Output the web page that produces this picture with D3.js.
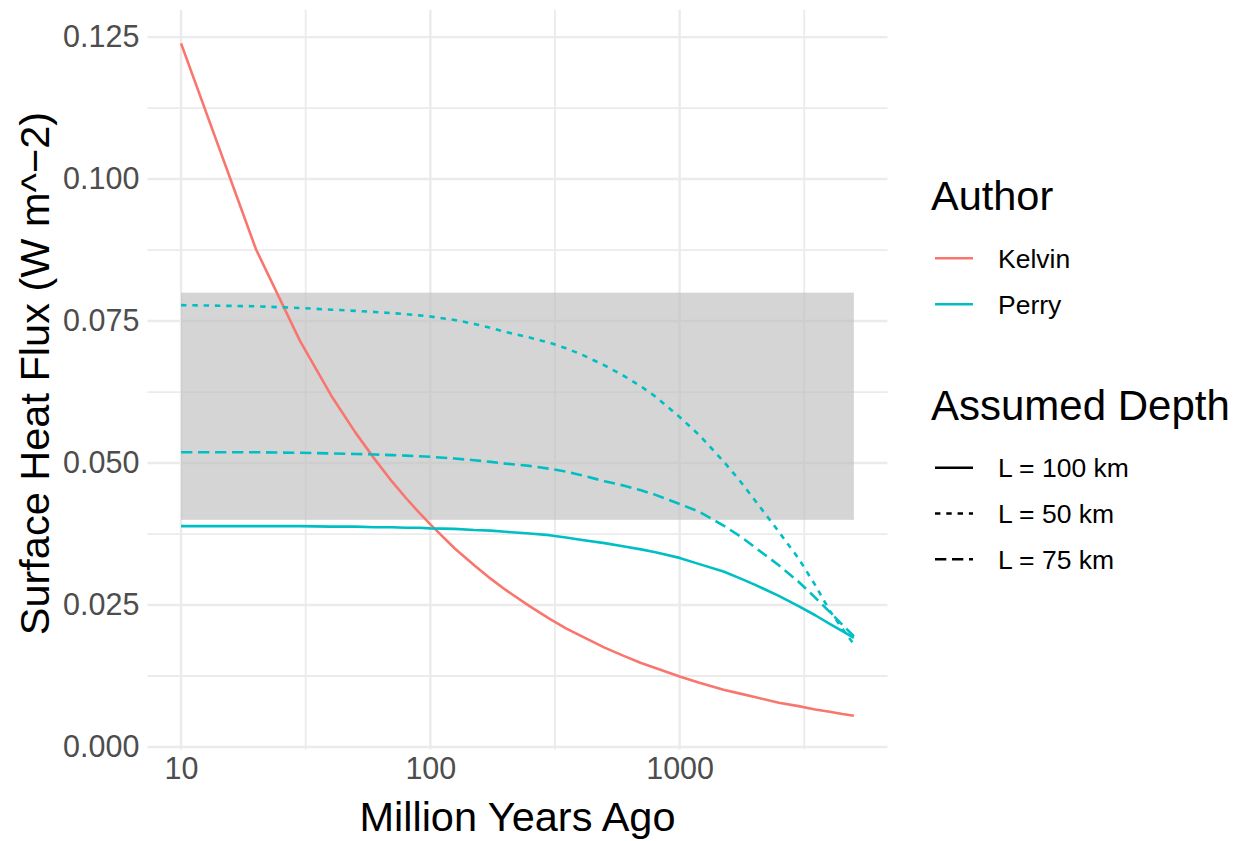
<!DOCTYPE html>
<html>
<head>
<meta charset="utf-8">
<script src="https://cdn.jsdelivr.net/npm/d3@7"></script>
<style>
  html, body { margin: 0; padding: 0; background: #fff; }
  svg text { font-family: "Liberation Sans", Arial, Helvetica, sans-serif; }
</style>
</head>
<body>
<svg id="chart" width="1243" height="841"></svg>
<script>
// values
const years = [10, 20, 30, 40, 50, 60, 70, 80, 90, 100, 125, 150, 175, 200, 250, 300, 350, 400, 500, 600, 700, 800,
               1000, 1200, 1500, 1750, 2000, 2500, 3000, 3500, 4000, 4500, 5000];
const kelvin = [0.1239, 0.0876, 0.0715, 0.0619, 0.0554, 0.0506, 0.0468, 0.0438, 0.0413, 0.0392, 0.0350, 0.0320, 0.0296, 0.0277, 0.0248, 0.0226, 0.0209, 0.0196, 0.0175, 0.0160, 0.0148, 0.0139,
                0.0124, 0.0113, 0.0101, 0.0094, 0.0088, 0.0078, 0.0072, 0.0066, 0.0062, 0.0058, 0.0055];
const perry100 = [0.0389, 0.0389, 0.0389, 0.0388, 0.0388, 0.0387, 0.0387, 0.0386, 0.0386, 0.0385, 0.0384, 0.0382, 0.0381, 0.0379, 0.0376, 0.0373, 0.0369, 0.0365, 0.0359, 0.0353, 0.0348, 0.0343,
                  0.0333, 0.0322, 0.0309, 0.0297, 0.0286, 0.0266, 0.0248, 0.0232, 0.0217, 0.0204, 0.0192];
const perry50 = [0.0778, 0.0776, 0.0773, 0.0770, 0.0768, 0.0766, 0.0764, 0.0762, 0.0760, 0.0758, 0.0752, 0.0745, 0.0738, 0.0731, 0.0721, 0.0712, 0.0702, 0.0692, 0.0672, 0.0653, 0.0635, 0.0617,
                 0.0581, 0.0549, 0.0503, 0.0468, 0.0435, 0.0379, 0.0332, 0.0285, 0.0240, 0.0208, 0.0181];
const perry75 = [0.0519, 0.0519, 0.0518, 0.0517, 0.0516, 0.0515, 0.0514, 0.0513, 0.0512, 0.0511, 0.0508, 0.0505, 0.0502, 0.0499, 0.0495, 0.0490, 0.0485, 0.0479, 0.0468, 0.0460, 0.0452, 0.0444,
                 0.0428, 0.0414, 0.0390, 0.0371, 0.0352, 0.0320, 0.0291, 0.0263, 0.0238, 0.0215, 0.0195];

const band = [0.04, 0.08];            // shaded range
const bandYears = [10, 5000];
const xTicks = [10, 100, 1000];
const xMinorTicks = [31.62, 316.2, 3162];
const yTicks = [0, 0.025, 0.05, 0.075, 0.1, 0.125];
const yMinorTicks = [0.0125, 0.0375, 0.0625, 0.0875, 0.1125];

const authors = ["Kelvin", "Perry"];
const depths = ["L = 100 km", "L = 50 km", "L = 75 km"];

const authorColor = { Kelvin: "#F8766D", Perry: "#00BFC4" };
const depthDash = { "L = 100 km": null, "L = 50 km": "5.4,5.9", "L = 75 km": "11.3,5.7" };

const series = [
    { author: "Kelvin", depth: "L = 100 km", values: kelvin },
    { author: "Perry", depth: "L = 100 km", values: perry100 },
    { author: "Perry", depth: "L = 50 km", values: perry50 },
    { author: "Perry", depth: "L = 75 km", values: perry75 }
];

const svg = d3.select("#chart");
const panel = { left: 147.4, right: 887.5, top: 9.7, bottom: 749.4 };

// ggplot-style 5% expansion on the log axis and on y
const lx = [Math.log10(10), Math.log10(5000)];
const padX = (lx[1] - lx[0]) * 0.05;
const x = d3.scaleLog()
    .domain([Math.pow(10, lx[0] - padX), Math.pow(10, lx[1] + padX)])
    .range([panel.left, panel.right]);

const yMin = 0.0055, yMax = 0.1239;
const padY = (yMax - yMin) * 0.05;
const y = d3.scaleLinear()
    .domain([yMin - padY, yMax + padY])
    .range([panel.bottom, panel.top]);

// grid
const grid = svg.append("g");
function hLines(vals, w) {
    grid.append("g").selectAll("line").data(vals).join("line")
        .attr("x1", panel.left).attr("x2", panel.right)
        .attr("y1", d => y(d)).attr("y2", d => y(d))
        .attr("stroke", "#EBEBEB").attr("stroke-width", w);
}
function vLines(vals, w) {
    grid.append("g").selectAll("line").data(vals).join("line")
        .attr("y1", panel.top).attr("y2", panel.bottom)
        .attr("x1", d => x(d)).attr("x2", d => x(d))
        .attr("stroke", "#EBEBEB").attr("stroke-width", w);
}
hLines(yMinorTicks, 1.8);
vLines(xMinorTicks, 1.8);
hLines(yTicks, 2.4);
vLines(xTicks, 2.4);

// shaded band
svg.append("rect")
    .attr("x", x(bandYears[0]))
    .attr("width", x(bandYears[1]) - x(bandYears[0]))
    .attr("y", y(band[1]))
    .attr("height", y(band[0]) - y(band[1]))
    .attr("fill", "#BEBEBE").attr("opacity", 0.64);

// lines
const line = d3.line()
    .x((d, i) => x(years[i]))
    .y(d => y(d));

svg.append("g").selectAll("path").data(series).join("path")
    .attr("d", d => line(d.values))
    .attr("fill", "none")
    .attr("stroke", d => authorColor[d.author])
    .attr("stroke-width", 2.6)
    .attr("stroke-linejoin", "round")
    .attr("stroke-dasharray", d => depthDash[d.depth]);

// axes (no domain, no tick marks)
const xAxis = svg.append("g")
    .attr("transform", `translate(0,${panel.bottom})`)
    .call(d3.axisBottom(x).tickValues(xTicks).tickFormat(d3.format("d")).tickSize(0).tickPadding(8));
const yAxis = svg.append("g")
    .attr("transform", `translate(${panel.left},0)`)
    .call(d3.axisLeft(y).tickValues(yTicks).tickFormat(d3.format(".3f")).tickSize(0).tickPadding(8));
[xAxis, yAxis].forEach(a => {
    a.select(".domain").remove();
    a.selectAll("text")
        .attr("fill", "#4D4D4D")
        .style("font-size", "30.5px")
        .style("font-family", "'Liberation Sans', Arial, sans-serif");
});

// axis titles
svg.append("text")
    .attr("x", (panel.left + panel.right) / 2).attr("y", 831)
    .attr("text-anchor", "middle")
    .style("font-size", "41.5px")
    .text("Million Years Ago");
svg.append("text")
    .attr("transform", `translate(49,${(panel.top + panel.bottom) / 2 - 6}) rotate(-90)`)
    .attr("text-anchor", "middle")
    .style("font-size", "41.5px")
    .text("Surface Heat Flux (W m^\u22122)");

// legends
const leg = svg.append("g");
leg.append("text").attr("x", 931).attr("y", 210).style("font-size", "41.5px").text("Author");
const aKeys = leg.selectAll(".akey").data(authors).join("g")
    .attr("transform", (d, i) => `translate(0,${258.3 + i * 46})`);
aKeys.append("line")
    .attr("x1", 935).attr("x2", 973)
    .attr("stroke", d => authorColor[d]).attr("stroke-width", 2.6);
aKeys.append("text")
    .attr("x", 998).attr("y", 9.5)
    .style("font-size", "26.5px")
    .text(d => d);

leg.append("text").attr("x", 931).attr("y", 420).style("font-size", "42px").text("Assumed Depth");
const dKeys = leg.selectAll(".dkey").data(depths).join("g")
    .attr("transform", (d, i) => `translate(0,${467.7 + i * 45.8})`);
dKeys.append("line")
    .attr("x1", 935).attr("x2", 973)
    .attr("stroke", "#000").attr("stroke-width", 2.6)
    .attr("stroke-dasharray", d => depthDash[d]);
dKeys.append("text")
    .attr("x", 998).attr("y", 9.5)
    .style("font-size", "26.5px")
    .text(d => d);
</script>
</body>
</html>
